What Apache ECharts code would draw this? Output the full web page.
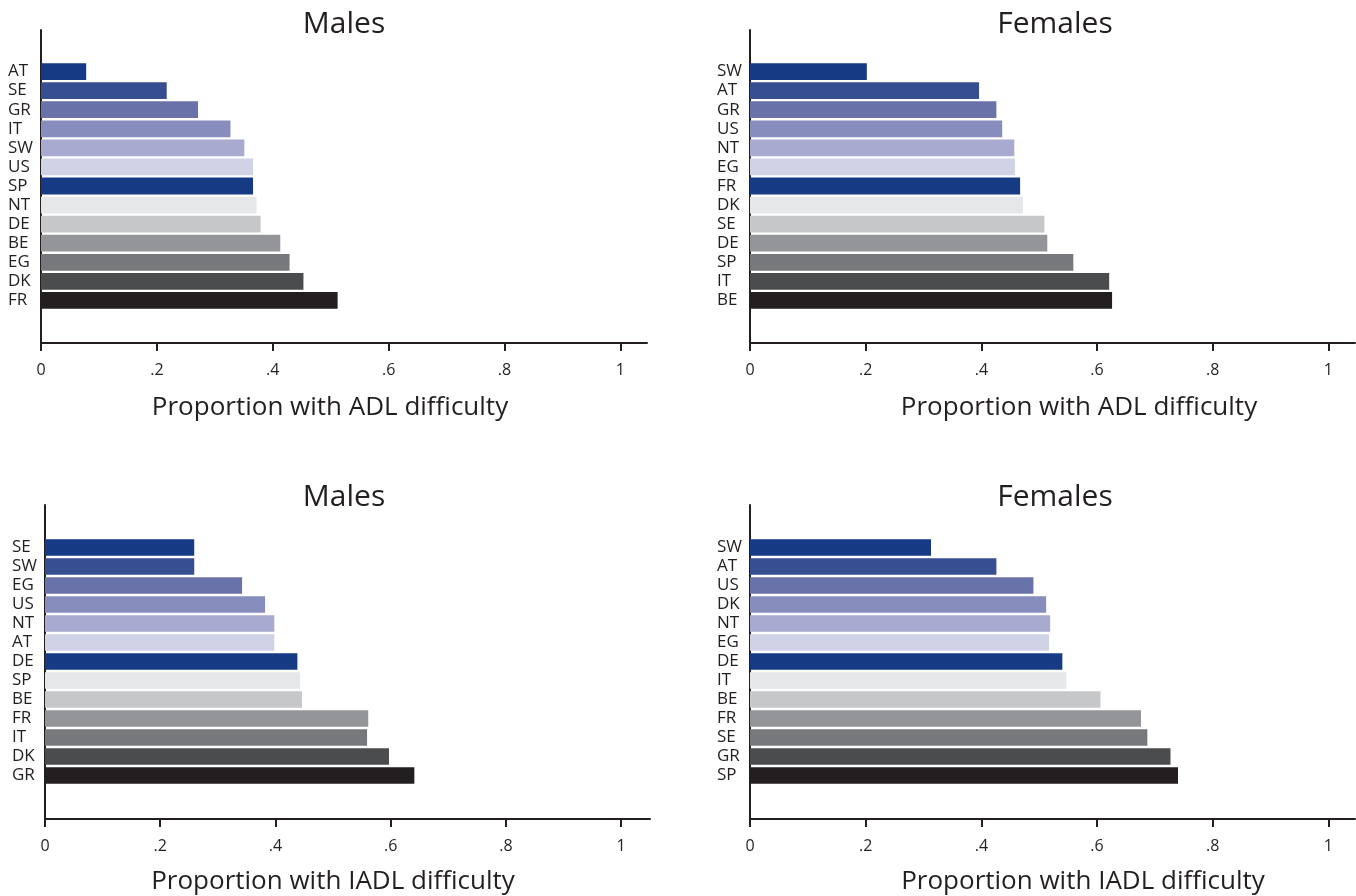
<!DOCTYPE html>
<html>
<head>
<meta charset="utf-8">
<script src="https://cdn.jsdelivr.net/npm/echarts@6/dist/echarts.min.js"></script>
<style>html,body{margin:0;padding:0;background:#fff}#c{width:1356px;height:896px}</style>
</head>
<body>
<div id="c"></div>
<script>
const adlMaleCats = ['AT','SE','GR','IT','SW','US','SP','NT','DE','BE','EG','DK','FR'];
const adlMaleVals = [0.078,0.217,0.271,0.327,0.351,0.366,0.366,0.372,0.379,0.413,0.429,0.453,0.512];
const adlFemaleCats = ['SW','AT','GR','US','NT','EG','FR','DK','SE','DE','SP','IT','BE'];
const adlFemaleVals = [0.202,0.396,0.426,0.436,0.457,0.458,0.467,0.472,0.509,0.514,0.559,0.621,0.626];
const iadlMaleCats = ['SE','SW','EG','US','NT','AT','DE','SP','BE','FR','IT','DK','GR'];
const iadlMaleVals = [0.259,0.259,0.342,0.382,0.398,0.398,0.438,0.443,0.446,0.561,0.559,0.597,0.641];
const iadlFemaleCats = ['SW','AT','US','DK','NT','EG','DE','IT','BE','FR','SE','GR','SP'];
const iadlFemaleVals = [0.313,0.426,0.490,0.512,0.519,0.517,0.540,0.547,0.606,0.676,0.687,0.727,0.740];
const barColors = ['#163a84','#374f91','#6a72aa','#878dbd','#a8abcf','#d0d2e6','#163a84','#e6e7e9','#c6c7c9','#949598','#77787b','#4b4c4e','#231f20'];
const tickValues = [0,0.2,0.4,0.6,0.8,1];
const tickLabels = ['0','.2','.4','.6','.8','1'];
const panelTitles = ['Males','Females','Males','Females'];
const axisTitles = ['Proportion with ADL difficulty','Proportion with ADL difficulty','Proportion with IADL difficulty','Proportion with IADL difficulty'];

const FONT = '"Open Sans", "Noto Sans", sans-serif';
const INK = '#231f20';

const panels = [
  {cats: adlMaleCats, vals: adlMaleVals, left: 41, width: 606, fTop: 30, fBot: 343, bTop: 62, bBot: 310, max: 1.046, tX: 344, tY: 9, aX: 330, aY: 395},
  {cats: adlFemaleCats, vals: adlFemaleVals, left: 750, width: 605, fTop: 30, fBot: 343, bTop: 62, bBot: 310, max: 1.046, tX: 1055, tY: 9, aX: 1079, aY: 395},
  {cats: iadlMaleCats, vals: iadlMaleVals, left: 45, width: 605, fTop: 505, fBot: 819, bTop: 538, bBot: 785, max: 1.05, tX: 344, tY: 482, aX: 333, aY: 869},
  {cats: iadlFemaleCats, vals: iadlFemaleVals, left: 750, width: 605, fTop: 505, fBot: 819, bTop: 538, bBot: 785, max: 1.046, tX: 1055, tY: 482, aX: 1083, aY: 869}
];

const grid = [], xAxis = [], yAxis = [], series = [], title = [];
panels.forEach((p, i) => {
  const gF = grid.length;
  grid.push({left: p.left, width: p.width, top: p.fTop, height: p.fBot - p.fTop, containLabel: false});
  xAxis.push({
    type: 'value', gridIndex: gF, min: 0, max: p.max, position: 'bottom',
    splitLine: {show: false},
    axisLine: {show: true, onZero: false, lineStyle: {color: INK, width: 2}},
    axisTick: {show: true, length: 8, customValues: tickValues, lineStyle: {color: INK, width: 2}},
    axisLabel: {show: true, customValues: tickValues, margin: 19, fontSize: 16, color: INK, fontFamily: FONT,
      formatter: v => tickLabels[tickValues.findIndex(t => Math.abs(t - v) < 1e-9)] ?? ''}
  });
  yAxis.push({
    type: 'value', gridIndex: gF, min: 0, max: 1, position: 'left',
    splitLine: {show: false}, axisTick: {show: false}, axisLabel: {show: false},
    axisLine: {show: true, onZero: false, lineStyle: {color: INK, width: 2}}
  });
  const gB = grid.length;
  grid.push({left: p.left, width: p.width, top: p.bTop, height: p.bBot - p.bTop, containLabel: false});
  const xB = xAxis.length;
  xAxis.push({type: 'value', gridIndex: gB, min: 0, max: p.max, show: false});
  const yB = yAxis.length;
  yAxis.push({
    type: 'category', gridIndex: gB, data: p.cats, inverse: true,
    axisLine: {show: false}, axisTick: {show: false},
    axisLabel: {show: true, interval: 0, align: 'left', margin: 33, fontSize: 17, color: INK, fontFamily: FONT}
  });
  series.push({
    type: 'bar', xAxisIndex: xB, yAxisIndex: yB, data: p.vals, barCategoryGap: '12%',
    itemStyle: {color: params => barColors[params.dataIndex]},
    silent: true, animation: false
  });
  title.push({text: panelTitles[i], left: p.tX, top: p.tY, textAlign: 'center', padding: 0,
    textStyle: {fontSize: 30, fontWeight: 'normal', color: INK, fontFamily: FONT}});
  title.push({text: axisTitles[i], left: p.aX, top: p.aY, textAlign: 'center', padding: 0,
    textStyle: {fontSize: 26, fontWeight: 'normal', color: INK, fontFamily: FONT}});
});

const chart = echarts.init(document.getElementById('c'), null, {renderer: 'canvas'});
chart.setOption({backgroundColor: '#ffffff', animation: false, title, grid, xAxis, yAxis, series});
</script>
</body>
</html>
